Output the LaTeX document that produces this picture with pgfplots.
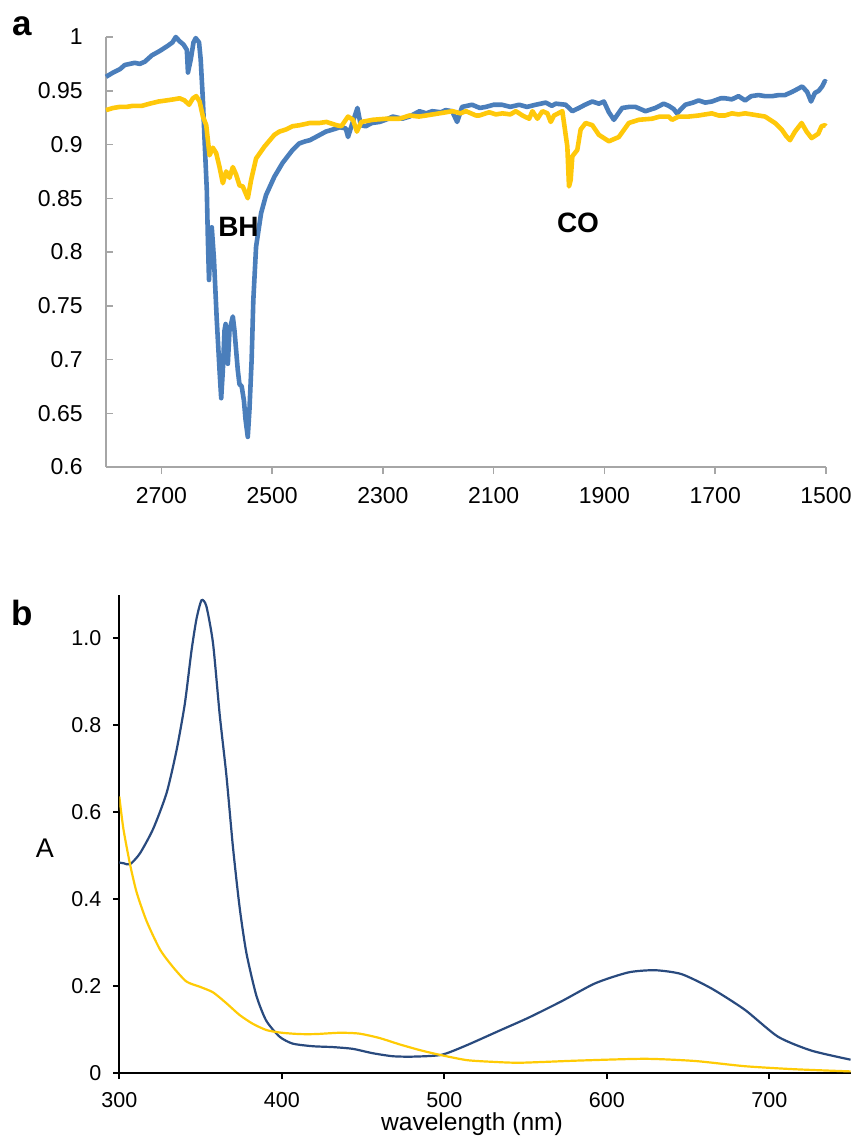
\documentclass[border=0pt]{standalone}
\usepackage{pgfplots}
\pgfplotsset{compat=1.18}
\usepackage{fontspec}
\setmainfont{Liberation Sans}
\definecolor{irblue}{HTML}{4A7EBB}
\definecolor{iryellow}{HTML}{FFC80A}
\definecolor{uvblue}{HTML}{294A7E}
\definecolor{uvyellow}{HTML}{FFCB05}
\definecolor{axgray}{HTML}{A6A6A6}

\begin{document}
\begin{tikzpicture}
\useasboundingbox (0,0) rectangle (429pt,-568.5pt);

% panel a: IR
\begin{axis}[
  at={(53pt,-233.5pt)}, anchor=south west,
  scale only axis, width=360pt, height=215pt,
  x dir=reverse, xmin=1500, xmax=2800, ymin=0.6, ymax=1,
  axis x line*=bottom, axis y line*=left,
  axis line style={axgray, line width=0.75pt},
  xtick={1500,1700,1900,2100,2300,2500,2700},
  xticklabels={1500,1700,1900,2100,2300,2500,2700},
  ytick={0.6,0.65,0.7,0.75,0.8,0.85,0.9,0.95,1},
  yticklabels={0.6,0.65,0.7,0.75,0.8,0.85,0.9,0.95,1},
  xtick align=outside, ytick align=inside,
  major tick length=3.5pt,
  tick style={axgray, line width=0.75pt},
  tick label style={font=\fontsize{11.5}{12}\selectfont},
  yticklabel style={anchor=east, inner sep=0pt, xshift=-11.5pt},
  xticklabel style={anchor=north, inner sep=0pt, yshift=-6.5pt},
  clip=false,
]
\addplot[irblue, line width=2.3pt, line join=round] coordinates {
(2800,0.963) (2787,0.967) (2775,0.970) (2766,0.974) (2757,0.975) (2748,0.976)
(2739,0.975) (2730,0.977) (2717,0.983) (2703,0.987) (2688,0.992) (2680,0.995)
(2674,1.000) (2667,0.996) (2660,0.993) (2654,0.988) (2652,0.967) (2647,0.979)
(2642,0.995) (2638,0.999) (2632,0.995) (2629,0.979) (2625,0.941) (2622,0.904)
(2618,0.858) (2616,0.811) (2614,0.774) (2611,0.811) (2609,0.823) (2605,0.793)
(2600,0.737) (2595,0.690) (2592,0.664) (2589,0.690) (2586,0.727) (2584,0.733)
(2582,0.718) (2580,0.696) (2577,0.727) (2571,0.740) (2568,0.727) (2562,0.690)
(2559,0.677) (2555,0.675) (2551,0.662) (2548,0.644) (2544,0.628) (2541,0.653)
(2537,0.700) (2534,0.755) (2529,0.805) (2520,0.836) (2511,0.853) (2496,0.870)
(2481,0.883) (2463,0.895) (2451,0.901) (2440,0.903) (2432,0.904) (2421,0.907)
(2403,0.912) (2390,0.914) (2378,0.916) (2367,0.915) (2363,0.907) (2355,0.920)
(2346,0.934) (2340,0.918) (2331,0.917) (2320,0.920) (2306,0.921) (2295,0.923)
(2282,0.926) (2265,0.924) (2252,0.926) (2234,0.931) (2222,0.929) (2211,0.931)
(2195,0.930) (2187,0.932) (2175,0.931) (2166,0.921) (2157,0.935) (2139,0.937)
(2125,0.934) (2114,0.935) (2100,0.937) (2085,0.937) (2070,0.935) (2054,0.937)
(2040,0.935) (2024,0.937) (2006,0.939) (1995,0.936) (1988,0.938) (1970,0.937)
(1958,0.931) (1946,0.934) (1935,0.937) (1922,0.940) (1910,0.938) (1901,0.940)
(1892,0.930) (1883,0.923) (1868,0.934) (1855,0.935) (1844,0.935) (1826,0.931)
(1808,0.934) (1793,0.938) (1784,0.936) (1775,0.933) (1769,0.929) (1754,0.937)
(1740,0.939) (1730,0.941) (1718,0.939) (1706,0.940) (1690,0.943) (1682,0.943)
(1670,0.942) (1658,0.945) (1646,0.941) (1635,0.945) (1622,0.946) (1610,0.945)
(1597,0.945) (1585,0.946) (1574,0.946) (1561,0.949) (1550,0.952) (1543,0.954)
(1534,0.949) (1527,0.940) (1520,0.948) (1513,0.950) (1507,0.954) (1502,0.959)
(1500,0.958)
};
\addplot[iryellow, line width=2.3pt, line join=round] coordinates {
(2800,0.932) (2787,0.934) (2775,0.935) (2763,0.935) (2751,0.936) (2735,0.936)
(2721,0.938) (2705,0.940) (2691,0.941) (2678,0.942) (2667,0.943) (2658,0.941)
(2650,0.937) (2643,0.943) (2637,0.945) (2631,0.940) (2625,0.926) (2619,0.918)
(2613,0.890) (2607,0.897) (2601,0.892) (2595,0.879) (2589,0.864) (2583,0.875)
(2577,0.869) (2571,0.879) (2565,0.872) (2559,0.862) (2553,0.861) (2544,0.850)
(2538,0.867) (2529,0.887) (2514,0.898) (2496,0.909) (2487,0.912) (2475,0.914)
(2463,0.917) (2450,0.918) (2432,0.920) (2415,0.920) (2402,0.921) (2384,0.918)
(2375,0.917) (2363,0.926) (2354,0.923) (2347,0.912) (2339,0.921) (2318,0.923)
(2294,0.924) (2270,0.924) (2252,0.927) (2235,0.926) (2222,0.927) (2198,0.929)
(2174,0.931) (2160,0.929) (2150,0.931) (2132,0.927) (2126,0.927) (2108,0.930)
(2096,0.928) (2084,0.929) (2070,0.928) (2060,0.931) (2048,0.927) (2036,0.924)
(2030,0.931) (2021,0.924) (2012,0.931) (2003,0.929) (1997,0.921) (1991,0.927)
(1976,0.931) (1973,0.920) (1967,0.898) (1964,0.861) (1961,0.867) (1958,0.889)
(1949,0.895) (1943,0.914) (1934,0.920) (1922,0.918) (1910,0.909) (1892,0.903)
(1874,0.907) (1856,0.920) (1838,0.923) (1814,0.924) (1800,0.926) (1784,0.926)
(1778,0.923) (1766,0.926) (1748,0.926) (1730,0.927) (1718,0.928) (1706,0.929)
(1694,0.927) (1682,0.927) (1670,0.929) (1658,0.928) (1646,0.929) (1634,0.928)
(1622,0.927) (1610,0.926) (1592,0.920) (1580,0.914) (1572,0.908) (1565,0.904)
(1556,0.912) (1544,0.920) (1535,0.912) (1526,0.906) (1514,0.910) (1508,0.917)
(1502,0.918) (1500,0.917)
};
\end{axis}

% panel b: UV-vis
\begin{axis}[
  at={(59.65pt,-536.35pt)}, anchor=south west,
  scale only axis, width=365.65pt, height=238.85pt,
  xmin=300, xmax=750, ymin=0, ymax=1.1,
  axis x line*=bottom, axis y line*=left,
  axis line style={black, line width=1pt},
  xtick={300,400,500,600,700},
  xticklabels={300,400,500,600,700},
  ytick={0,0.2,0.4,0.6,0.8,1.0},
  yticklabels={0,0.2,0.4,0.6,0.8,1.0},
  tick align=outside, major tick length=3pt,
  tick style={black, line width=1pt},
  tick label style={font=\fontsize{10.75}{11}\selectfont},
  yticklabel style={anchor=east, inner sep=0pt, xshift=-5.8pt},
  xticklabel style={anchor=north, inner sep=0pt, yshift=-6.5pt},
]
\addplot[uvblue, line width=1.1pt, smooth, tension=0.4] coordinates {
(300,0.484) (303,0.482) (306.6,0.480) (312.7,0.505) (320.9,0.562) (329.1,0.644)
(335.2,0.742) (340.3,0.849) (344.4,0.971) (347.5,1.045) (350.6,1.088) (353.6,1.074)
(357.7,0.988) (361.8,0.824) (365.9,0.685) (369.9,0.521) (374.0,0.382) (378.2,0.276)
(384.3,0.178) (390.4,0.120) (398.6,0.083) (406.7,0.067) (419.0,0.061) (431.3,0.059)
(443.6,0.055) (455.8,0.045) (468.1,0.038) (480.4,0.037) (498,0.041) (513,0.062)
(534,0.097) (552,0.127) (572.4,0.165) (592.9,0.206) (613.3,0.231) (629.7,0.236)
(646.0,0.227) (664.4,0.194) (684.9,0.145) (705.3,0.083) (725.8,0.051) (750,0.030)
};
\addplot[uvyellow, line width=1.1pt, smooth, tension=0.4] coordinates {
(300,0.636) (302.5,0.562) (306.6,0.480) (310.7,0.415) (316.8,0.349) (325.0,0.284)
(333.1,0.243) (341.3,0.210) (349.5,0.198) (357.7,0.185) (365.9,0.160) (374.0,0.133)
(382,0.113) (390.7,0.098) (400,0.092) (411,0.089) (421,0.089) (435.8,0.092)
(447.7,0.090) (460,0.080) (472.7,0.065) (485,0.052) (497.4,0.041) (513.8,0.029)
(530,0.025) (547,0.023) (583,0.028) (623.6,0.032) (654.2,0.027) (684.9,0.015)
(715.6,0.008) (750,0.003)
};
\end{axis}

\node[font=\bfseries\fontsize{17.5}{18}\selectfont, inner sep=0pt] at (11.25pt,-13pt) {a};
\node[font=\bfseries\fontsize{17.5}{18}\selectfont, inner sep=0pt] at (11.25pt,-306.5pt) {b};
\node[font=\bfseries\fontsize{14}{14}\selectfont, inner sep=0pt] at (119.25pt,-113.5pt) {BH};
\node[font=\bfseries\fontsize{14}{14}\selectfont, inner sep=0pt] at (289pt,-111.5pt) {CO};
\node[font=\fontsize{13.5}{14}\selectfont, inner sep=0pt] at (22.5pt,-424pt) {A};
\node[font=\fontsize{12.3}{13}\selectfont, inner sep=0pt, anchor=base] at (236pt,-565.25pt) {wavelength (nm)};
\end{tikzpicture}
\end{document}
